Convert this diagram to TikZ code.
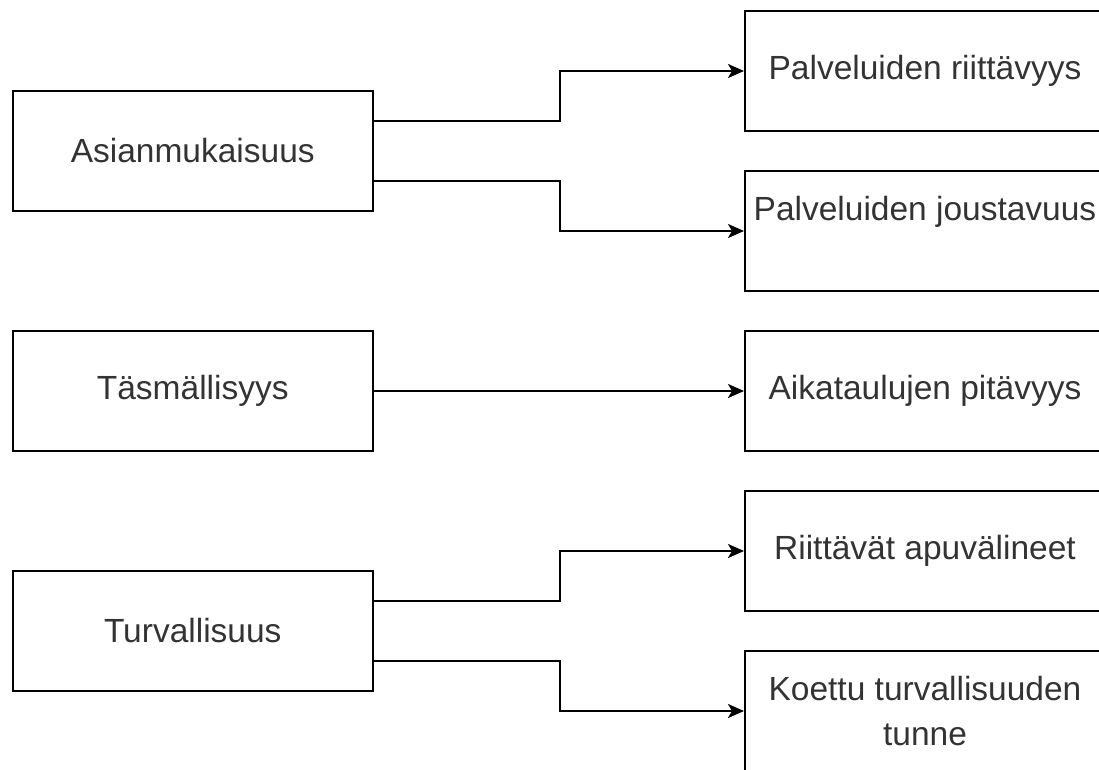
\documentclass[tikz,border=0pt]{standalone}
\usepackage{fontspec}
\setmainfont{Liberation Sans}
\usepackage{tikz}
\usetikzlibrary{arrows.meta}
\tikzstyle{line} = [draw, -{Stealth[length=16pt, width=14pt, inset=4pt]}]
\tikzstyle{crit} = [rectangle, draw, minimum width=360pt, minimum height=120pt, align=center, text=black!80, font=\fontsize{33.5}{45}\selectfont]
\tikzstyle{factor} = [crit, node distance=160pt]

\begin{document}
\begin{tikzpicture}[line width=2pt]
	\useasboundingbox (0,0) rectangle (1099pt,-769pt);
	
	\node [crit] (asian) at (192.75pt,-151pt) {Asianmukaisuus};
	
	\node [crit, below of=asian, node distance=240pt] (tasm) {Täsmällisyys};
	
	\node [crit, below of=tasm, node distance=240pt] (turv) {Turvallisuus};
	
	\node [factor, right of=asian, node distance=732.25pt, yshift=80pt] (riitt) {Palveluiden riittävyys};
	
	\node [factor, below of=riitt] (joust) {Palveluiden joustavuus\\\mbox{}};
	
	\node [factor, right of=tasm, node distance=732.25pt] (aikat) {Aikataulujen pitävyys};
	
	\node [factor, right of=turv, node distance=732.25pt, yshift=80pt] (apuv) {Riittävät apuvälineet};
	
	\node [factor, below of=apuv] (koettu) {Koettu turvallisuuden\\tunne};
	
	\path [line] ([yshift=30pt]asian.east) -- ++(186pt,0) |- (riitt.west);
	\path [line] ([yshift=-30pt]asian.east) -- ++(186pt,0) |- (joust.west);
	\path [line] (tasm.east) to (aikat.west);
	\path [line] ([yshift=30pt]turv.east) -- ++(186pt,0) |- (apuv.west);
	\path [line] ([yshift=-30pt]turv.east) -- ++(186pt,0) |- (koettu.west);
\end{tikzpicture}
\end{document}
